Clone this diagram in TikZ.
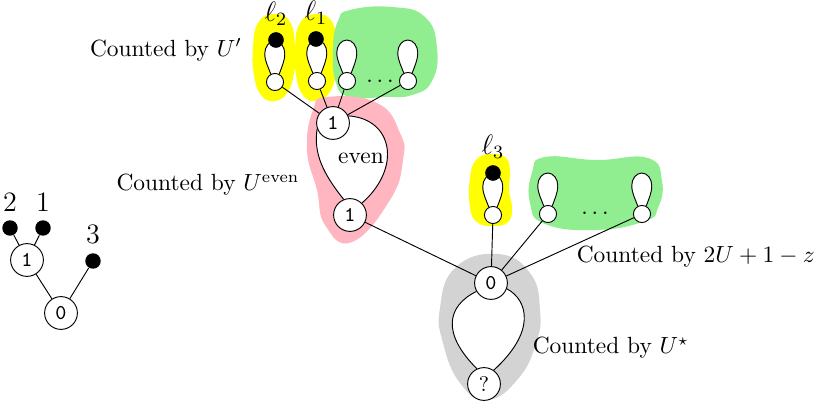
\documentclass[tikz,border=0pt]{standalone}
\usetikzlibrary{positioning,backgrounds}

\definecolor{bYellow}{RGB}{255,255,0}
\definecolor{bGreen}{RGB}{144,238,144}
\definecolor{bPink}{RGB}{255,182,193}
\definecolor{bGray}{RGB}{211,211,211}

\begin{document}
\begin{tikzpicture}[x=0.427pt, y=0.427pt,
    vtx/.style={circle, draw, fill=white, minimum size=14pt, inner sep=0pt, font=\small\ttfamily},
    leaf/.style={circle, draw, fill=white, minimum size=7.3pt, inner sep=0pt},
    blk/.style={circle, fill=black, minimum size=6.6pt, inner sep=0pt},
    tag/.style={font=\large, inner sep=1pt},
    petal/.style={to path={(\tikztostart.118) .. controls +(-2,6) and +(0,-8) .. ++(-6,20.5)
        arc[start angle=180, end angle=0, x radius=10, y radius=12.5] .. controls +(0,-8) and +(2,6) .. (\tikztostart.62)}},
    cnt/.style={inner sep=1pt},
    blob/.style={smooth cycle, tension=0.8}
]
\useasboundingbox (0,0) rectangle (826,403);

% small tree on the left
\node[vtx] (t0) at (61,90) {0};
\node[vtx] (t1) at (27,143) {1};
\node[blk] (t2) at (10,175) {};
\node[blk] (t3) at (43,175) {};
\node[blk] (t4) at (93,142) {};
\node[tag, above=2.5pt of t2] (n2) {2};
\node[tag, above=2.5pt of t3] (n1) {1};
\node[tag, above=2.5pt of t4] (n3) {3};
\draw (t0) -- (t1) (t0) -- (t4) (t1) -- (t2) (t1) -- (t3);

% upper part
\node[vtx] (u1) at (333,280) {1};
\node[vtx] (b1) at (350,188) {1};
\node (ev) at (361,245) {even};
\node[leaf] (a1) at (275,321) {};
\node[leaf] (a2) at (317,322) {};
\node[leaf] (a3) at (347,322) {};
\node[leaf] (a4) at (408,322) {};
\node (adots) at (380,322) {$\dots$};
\node[blk] (k2) at (276,363) {};
\node[blk] (k1) at (316,364) {};
\node[tag, above=1.5pt of k2] (l2) {$\ell_2$};
\node[tag, above=1.5pt of k1] (l1) {$\ell_1$};

% root part
\node[vtx] (r0) at (491,120) {0};
\node[vtx, font=\small] (rq) at (484,19) {?};
\node[leaf] (c1) at (493,188) {};
\node[leaf] (c2) at (548,189) {};
\node[leaf] (c3) at (642,189) {};
\node (cdots) at (595,190) {$\dots$};
\node[blk] (k3) at (493,230) {};
\node[tag, above=1.5pt of k3] (l3) {$\ell_3$};

% labels
\node[cnt] (cA) at (166,353) {Counted by $U'$};
\node[cnt] (cB) at (208,218) {Counted by $U^{\mathrm{even}}$};
\node[cnt, anchor=west] (cC) at (574,146) {Counted by $2U+1-z$};
\node[cnt, anchor=west] (cD) at (530,55) {Counted by $U^\star$};

\begin{scope}[on background layer]
% blobs
\fill[bYellow] plot[blob] coordinates {(274,389) (290,381) (295,355) (294,330) (287,310) (274,302) (261,308) (254,328) (253,355) (258,380)};
\fill[bYellow] plot[blob] coordinates {(316,389) (332,381) (337,355) (336,330) (329,310) (316,302) (303,308) (296,328) (295,355) (300,380)};
\fill[bGreen] plot[blob] coordinates {(350,393) (392,396) (425,386) (437,355) (432,322) (412,308) (385,306) (350,306) (336,320) (333,355) (338,382)};
\fill[bPink] plot[blob] coordinates {(327,306) (377,300) (400,270) (403,243) (390,203) (352,161) (325,178) (317,213) (307,253) (313,293)};
\fill[bYellow] plot[blob] coordinates {(493,249) (477,244) (470,225) (470,196) (477,181) (493,177) (508,181) (512,195) (509,213) (510,232) (506,245)};
\fill[bGreen] plot[blob] coordinates {(545,246) (597,243) (648,245) (662,222) (658,195) (645,182) (597,173) (545,179) (530,200) (532,230)};
\fill[bGray] plot[blob] coordinates {(497,149) (530,130) (540,93) (536,60) (518,24) (487,3) (460,20) (443,60) (440,95) (455,135)};
% white insides
\fill[white] (u1.25) .. controls +(45,-3) and +(40,35) .. (b1.45) -- (b1.112) .. controls +(-20,25) and +(-4,-25) .. (u1.200) -- cycle;
\fill[white] (r0.340) .. controls +(22,-12) and +(42,38) .. (rq.55) -- (rq.115) .. controls +(-35,35) and +(-30,-15) .. (r0.210) -- cycle;
\foreach \l in {a1,a2,a3,a4,c1,c2,c3} \fill[white] (\l) to[petal] (\l);
\end{scope}

% loops
\draw (u1.25) .. controls +(45,-3) and +(40,35) .. (b1.45);
\draw (u1.200) .. controls +(-4,-25) and +(-20,25) .. (b1.112);
\draw (r0.340) .. controls +(22,-12) and +(42,38) .. (rq.55);
\draw (r0.210) .. controls +(-30,-15) and +(-35,35) .. (rq.115);
\foreach \l in {a1,a2,a3,a4,c1,c2,c3} \draw (\l) to[petal] (\l);
\foreach \k in {k1,k2,k3} \fill (\k) circle[radius=7.6];

% edges
\foreach \l in {a1,a2,a3,a4} \draw (u1) -- (\l);
\foreach \l in {c1,c2,c3} \draw (r0) -- (\l);
\draw (b1) -- (r0);

\end{tikzpicture}
\end{document}
